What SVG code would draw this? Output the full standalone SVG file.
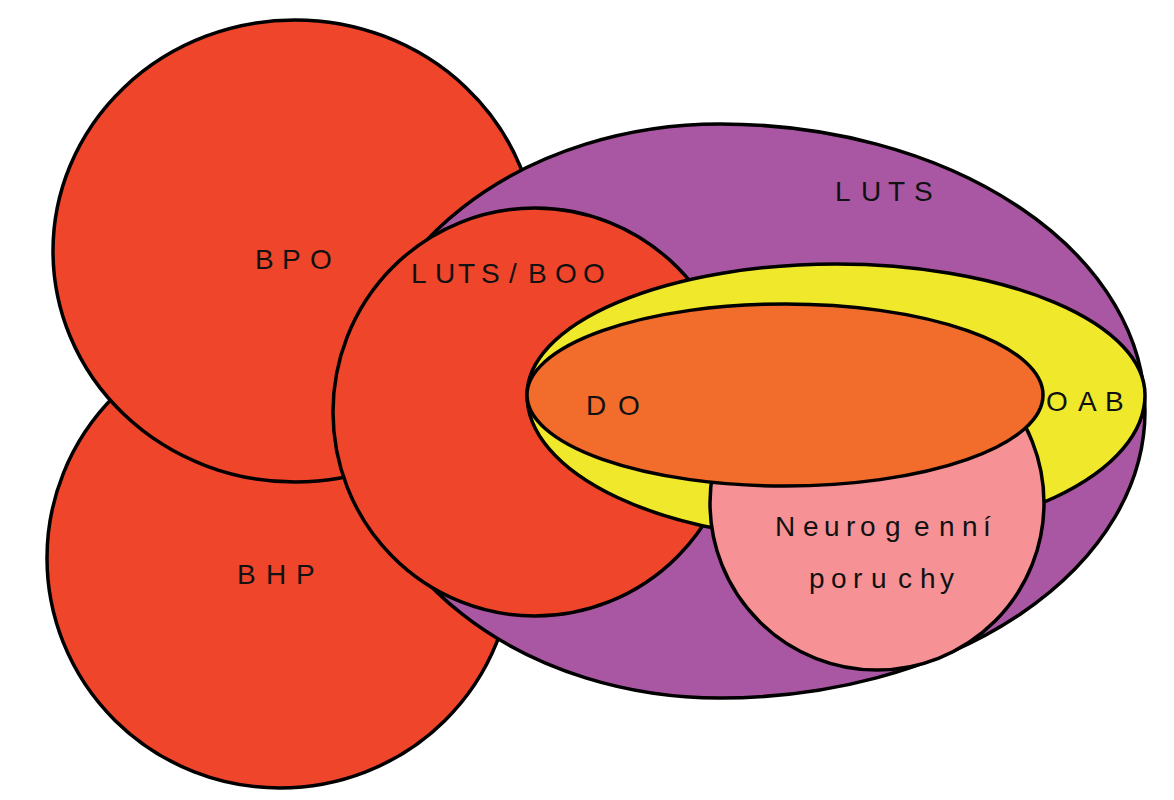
<svg xmlns="http://www.w3.org/2000/svg" width="1174" height="800" viewBox="0 0 1174 800">
  <style>
    .shape { stroke: #000; stroke-width: 3.5; stroke-linejoin: round; }
    .red { fill: #EF452B; }
    .purple { fill: #A957A2; }
    .yellow { fill: #EFE82B; }
    .orange { fill: #F26C2C; }
    .pink { fill: #F69295; }
    .lbl { font-family: "Liberation Sans", Arial, sans-serif; font-size: 28px; fill: #111; }
  </style>
  <rect width="1174" height="800" fill="#fff"/>
  <g id="connectors"></g>
  <g id="node-bhp">
    <ellipse class="shape red" cx="280" cy="558" rx="233" ry="230"/>
    <text class="lbl" x="237 266 296" y="584">BHP</text>
  </g>
  <g id="node-bpo">
    <ellipse class="shape red" cx="295" cy="251" rx="242" ry="231"/>
    <text class="lbl" x="255 282 310" y="269">BPO</text>
  </g>
  <g id="node-luts">
    <path class="shape purple" d="M 720 124 A 425 287 0 0 1 1145 411 A 425 287 0 0 1 720 698 A 365 287 0 0 1 355 411 A 365 287 0 0 1 720 124 Z"/>
    <text class="lbl" x="835 861 888 914" y="201">LUTS</text>
  </g>
  <g id="node-luts-boo">
    <ellipse class="shape red" cx="535" cy="412" rx="202" ry="204"/>
    <text class="lbl" x="411 435 458 481 509 528 555 583" y="283">LUTS/BOO</text>
  </g>
  <g id="node-oab">
    <path class="shape yellow" d="M 527 395 A 309 131 0 0 1 1145 395 A 309 145 0 0 1 527 395 Z"/>
  </g>
  <g id="node-neuro">
    <circle class="shape pink" cx="877" cy="503" r="167"/>
    <text class="lbl" x="775 803 824 846 860 885 914 939 962 983" y="536">Neurogenní</text>
    <text class="lbl" x="809 831 853 871 898 920 940" y="588">poruchy</text>
  </g>
  <g id="node-do">
    <ellipse class="shape orange" cx="785" cy="395" rx="258" ry="91"/>
    <text class="lbl" x="586 618" y="415">DO</text>
  </g>
  <g id="label-oab">
    <text class="lbl" x="1046 1078 1105" y="411">OAB</text>
  </g>
</svg>
